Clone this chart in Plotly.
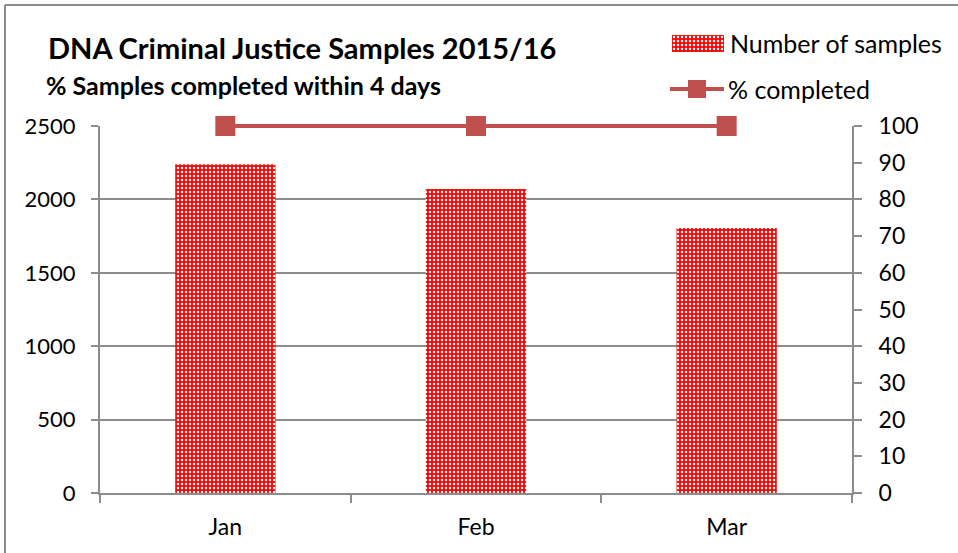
import plotly.graph_objects as go

months = ["Jan", "Feb", "Mar"]
samples = [2240, 2070, 1805]
pct_completed = [100, 100, 100]
series_names = ["Number of samples", "% completed"]

W, H = 958, 553
PLOT_L, PLOT_R, PLOT_T, PLOT_B = 100, 852, 126, 493
LINE_TOP = 106  # extra head-room so the line at 100 % is not clipped


def fx(px):
    return px / W


def fy(py):
    return (H - py) / H


FONT = "Lato"
grid = "#8C8C8C"
red = "#C0504D"
bar_red = "#FF0000"
pattern = dict(shape=".", bgcolor=bar_red, fgcolor="white", size=4,
               solidity=0.3, fillmode="replace")

PCT_MAX = 100
pct_headroom = PCT_MAX * (PLOT_B - LINE_TOP) / (PLOT_B - PLOT_T)

fig = go.Figure()
fig.add_trace(go.Bar(
    x=months, y=samples, name=series_names[0], width=0.4,
    marker=dict(color=bar_red, line=dict(width=0), pattern=pattern),
    showlegend=False,
))
# invisible trace just to keep the right axis active
fig.add_trace(go.Scatter(
    x=months, y=pct_completed, yaxis="y2", mode="markers",
    marker=dict(opacity=0), showlegend=False, hoverinfo="skip",
))
fig.add_trace(go.Scatter(
    x=months, y=pct_completed, name=series_names[1], xaxis="x", yaxis="y5",
    mode="lines+markers", line=dict(color=red, width=4),
    marker=dict(symbol="square", size=20, color=red),
    cliponaxis=False, showlegend=False,
))

# legend glyphs (drawn in small inset axes)
fig.add_trace(go.Bar(
    x=[0], y=[1], width=1, xaxis="x3", yaxis="y3", showlegend=False,
    marker=dict(color=bar_red, line=dict(width=0), pattern=pattern),
    hoverinfo="skip",
))
fig.add_trace(go.Scatter(
    x=[0, 0.5, 1], y=[0, 0, 0], xaxis="x4", yaxis="y4", showlegend=False,
    mode="lines", line=dict(color=red, width=4), hoverinfo="skip",
))
fig.add_trace(go.Scatter(
    x=[0.5], y=[0], xaxis="x4", yaxis="y4", showlegend=False,
    mode="markers", marker=dict(symbol="square", size=18, color=red),
    hoverinfo="skip", cliponaxis=False,
))

hidden = dict(visible=False, fixedrange=True, automargin=False)

fig.update_layout(
    width=W, height=H, autosize=False,
    margin=dict(l=0, r=0, t=0, b=0, pad=0, autoexpand=False),
    plot_bgcolor="rgba(0,0,0,0)", paper_bgcolor="white",
    font=dict(family=FONT, size=22, color="black"),
    showlegend=False,
    xaxis=dict(domain=[fx(PLOT_L), fx(PLOT_R)], showline=True, linecolor=grid,
               linewidth=2, ticks="outside", tickson="boundaries", ticklen=8,
               tickcolor=grid, tickwidth=2, showgrid=False, automargin=False,
               ticklabelstandoff=12, tickfont=dict(size=23)),
    yaxis=dict(domain=[fy(PLOT_B), fy(PLOT_T)], range=[0, 2500], dtick=500,
               showline=True, linecolor=grid, linewidth=2, ticks="outside",
               ticklen=7, tickcolor=grid, tickwidth=2, showgrid=True,
               gridcolor=grid, gridwidth=2, zeroline=False, automargin=False,
               ticklabelstandoff=11, tickfont=dict(size=22)),
    yaxis2=dict(range=[0, PCT_MAX], dtick=10, overlaying="y", side="right",
                anchor="x", showline=True, linecolor=grid, linewidth=2,
                ticks="outside", ticklen=8, tickcolor=grid, tickwidth=2,
                showgrid=False, zeroline=False, ticklabelstandoff=12,
                automargin=False, tickfont=dict(size=23)),
    yaxis5=dict(domain=[fy(PLOT_B), fy(LINE_TOP)], range=[0, pct_headroom],
                anchor="x", **hidden),
    xaxis3=dict(domain=[fx(672), fx(724)], range=[-0.5, 0.5], anchor="y3", **hidden),
    yaxis3=dict(domain=[fy(52), fy(35)], range=[0, 1], anchor="x3", **hidden),
    xaxis4=dict(domain=[fx(670), fx(724)], range=[0, 1], anchor="y4", **hidden),
    yaxis4=dict(domain=[fy(99), fy(79)], range=[-1, 1], anchor="x4", **hidden),
    shapes=[
        dict(type="line", xref="paper", yref="paper", x0=fx(5), x1=fx(W + 5),
             y0=fy(5), y1=fy(5), line=dict(color=grid, width=2)),
        dict(type="line", xref="paper", yref="paper", x0=fx(5), x1=fx(5),
             y0=fy(5), y1=fy(H + 5), line=dict(color=grid, width=2)),
    ],
    annotations=[
        dict(text="<b>DNA Criminal Justice Samples 2015/16</b>", xref="paper",
             yref="paper", x=fx(46), y=fy(48), xanchor="left",
             yanchor="middle", showarrow=False, font=dict(size=29)),
        dict(text="<b>% Samples completed within 4 days</b>", xref="paper",
             yref="paper", x=fx(44), y=fy(85), xanchor="left",
             yanchor="middle", showarrow=False, font=dict(size=25)),
        dict(text=series_names[0], xref="paper", yref="paper", x=fx(728),
             y=fy(43), xanchor="left", yanchor="middle", showarrow=False,
             font=dict(size=25)),
        dict(text=series_names[1], xref="paper", yref="paper", x=fx(726),
             y=fy(89), xanchor="left", yanchor="middle", showarrow=False,
             font=dict(size=25)),
    ],
)

fig.write_html(
    "out.html",
    config={"displayModeBar": False},
    post_script="document.body.style.margin='0';document.body.style.padding='0';document.body.style.overflow='hidden';",
)
